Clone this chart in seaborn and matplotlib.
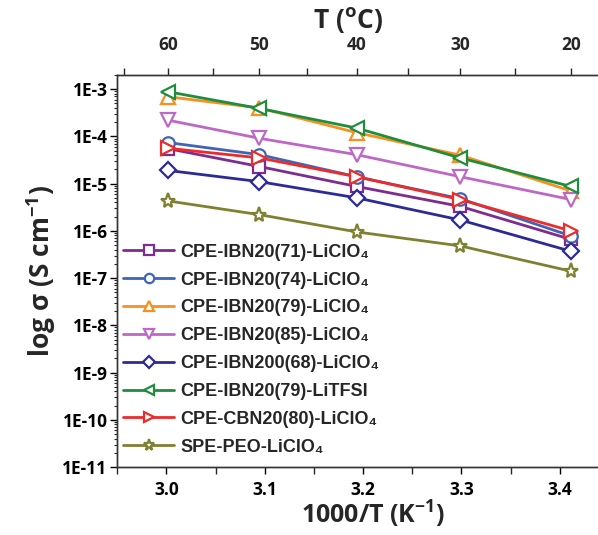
import numpy as np
import pandas as pd
import matplotlib
matplotlib.use("Agg")
import matplotlib.pyplot as plt
import matplotlib.ticker as mticker
import seaborn as sns

# ---------------- data ----------------
temps_C = [60, 50, 40, 30, 20]
inv_T = [1000.0 / (t + 273.15) for t in temps_C]

labels = [
    "CPE-IBN20(71)-LiClO₄",
    "CPE-IBN20(74)-LiClO₄",
    "CPE-IBN20(79)-LiClO₄",
    "CPE-IBN20(85)-LiClO₄",
    "CPE-IBN200(68)-LiClO₄",
    "CPE-IBN20(79)-LiTFSI",
    "CPE-CBN20(80)-LiClO₄",
    "SPE-PEO-LiClO₄",
]
ibn20_71 = [5.5e-5, 2.3e-5, 8.7e-6, 3.3e-6, 6.6e-7]
ibn20_74 = [7.4e-5, 4.1e-5, 1.4e-5, 4.8e-6, 7.8e-7]
ibn20_79 = [6.9e-4, 4.0e-4, 1.2e-4, 4.0e-5, 7.0e-6]
ibn20_85 = [2.2e-4, 9.1e-5, 4.1e-5, 1.4e-5, 4.6e-6]
ibn200_68 = [1.9e-5, 1.1e-5, 5.0e-6, 1.7e-6, 3.7e-7]
ibn20_79_tfsi = [8.8e-4, 3.9e-4, 1.5e-4, 3.5e-5, 8.7e-6]
cbn20_80 = [5.6e-5, 3.5e-5, 1.4e-5, 4.6e-6, 1.0e-6]
spe_peo = [4.3e-6, 2.2e-6, 9.5e-7, 4.8e-7, 1.4e-7]

series = [ibn20_71, ibn20_74, ibn20_79, ibn20_85, ibn200_68,
          ibn20_79_tfsi, cbn20_80, spe_peo]
colors = ["#7E2C8F", "#3F65B6", "#F7901E", "#BD68C6", "#2C2B96",
          "#1E8E3E", "#EE2A2A", "#7F8030"]
markers = ["s", "o", "^", "v", "D", "<", ">", "*"]
msizes = [9, 9, 10, 10, 8.5, 10, 10, 11]

top_major = [60, 50, 40, 30, 20]
top_minor = [65, 55, 45, 35, 25]

# ---------------- style ----------------
sns.set_style("ticks")
plt.rcParams["font.family"] = ["Open Sans", "DejaVu Sans"]
plt.rcParams["font.weight"] = "bold"
plt.rcParams["mathtext.fontset"] = "custom"
plt.rcParams["mathtext.rm"] = "Open Sans:bold"
plt.rcParams["mathtext.bf"] = "Open Sans:bold"
plt.rcParams["mathtext.it"] = "Open Sans:bold"

fig = plt.figure(figsize=(5.98, 5.35), dpi=100)
ax = fig.add_axes([0.196, 0.127, 0.806, 0.733])

for lab, vals, c, m, ms in zip(labels, series, colors, markers, msizes):
    df = pd.DataFrame({"x": inv_T, "y": vals})
    sns.lineplot(data=df, x="x", y="y", ax=ax, color=c, marker=m,
                 markersize=ms, markerfacecolor="white", markeredgecolor=c,
                 markeredgewidth=1.6, linewidth=2.0, label=lab)

ax.set_yscale("log")
ax.set_xlim(2.95, 3.44)
ax.set_ylim(1e-11, 2e-3)

ax.xaxis.set_major_locator(mticker.MultipleLocator(0.1))
ax.xaxis.set_minor_locator(mticker.MultipleLocator(0.05))
ax.xaxis.set_major_formatter(mticker.FormatStrFormatter("%.1f"))
ax.yaxis.set_major_locator(mticker.LogLocator(base=10, numticks=20))
ax.yaxis.set_minor_locator(mticker.LogLocator(base=10, subs=np.arange(2, 10), numticks=20))
ax.yaxis.set_minor_formatter(mticker.NullFormatter())
ax.yaxis.set_major_formatter(mticker.FuncFormatter(lambda v, p: "1E%d" % int(round(np.log10(v)))))

ax.tick_params(axis="both", which="major", direction="out", length=5, width=1,
               labelsize=12.5, colors="black")
ax.tick_params(axis="x", which="major", pad=5)
ax.tick_params(axis="y", which="major", pad=2)
ax.tick_params(axis="x", which="minor", direction="out", length=5, width=1)
ax.tick_params(axis="y", which="minor", direction="out", length=2.5, width=0.8)
for lbl in ax.get_xticklabels() + ax.get_yticklabels():
    lbl.set_fontweight("bold")

for s in ax.spines.values():
    s.set_linewidth(1.0)
    s.set_color("#333333")

ax.set_xlabel(r"1000/T (K$^{-1}$)", fontsize=18, fontweight="bold", labelpad=0)
ax.xaxis.label.set_x(0.53)
ax.set_ylabel(r"log σ (S cm$^{-1}$)", fontsize=19, fontweight="bold", labelpad=3)

# top axis in Celsius
ax2 = ax.twiny()
ax2.set_xlim(ax.get_xlim())
ax2.set_xticks([1000.0 / (t + 273.15) for t in top_major])
ax2.set_xticklabels([str(t) for t in top_major], fontweight="bold")
ax2.set_xticks([1000.0 / (t + 273.15) for t in top_minor], minor=True)
ax2.tick_params(axis="x", which="both", direction="out", length=5, width=1,
                labelsize=12.5)
ax2.tick_params(axis="x", which="major", pad=10)
ax2.set_xlabel(r"T ($\mathregular{^{o}}$C)", fontsize=19, fontweight="bold", labelpad=6)
ax2.xaxis.label.set_x(0.48)
for s in ax2.spines.values():
    s.set_linewidth(1.0)
    s.set_color("#333333")

leg = ax.legend(loc="lower left", bbox_to_anchor=(0.005, 0.02), frameon=False,
                prop={"family": ["Liberation Sans", "DejaVu Sans"], "weight": "bold", "size": 13},
                handlelength=2.8, handletextpad=0.35, labelspacing=0.6,
                borderpad=0.2, borderaxespad=0.0, markerscale=0.75)

fig.savefig("out.png", dpi=100)
